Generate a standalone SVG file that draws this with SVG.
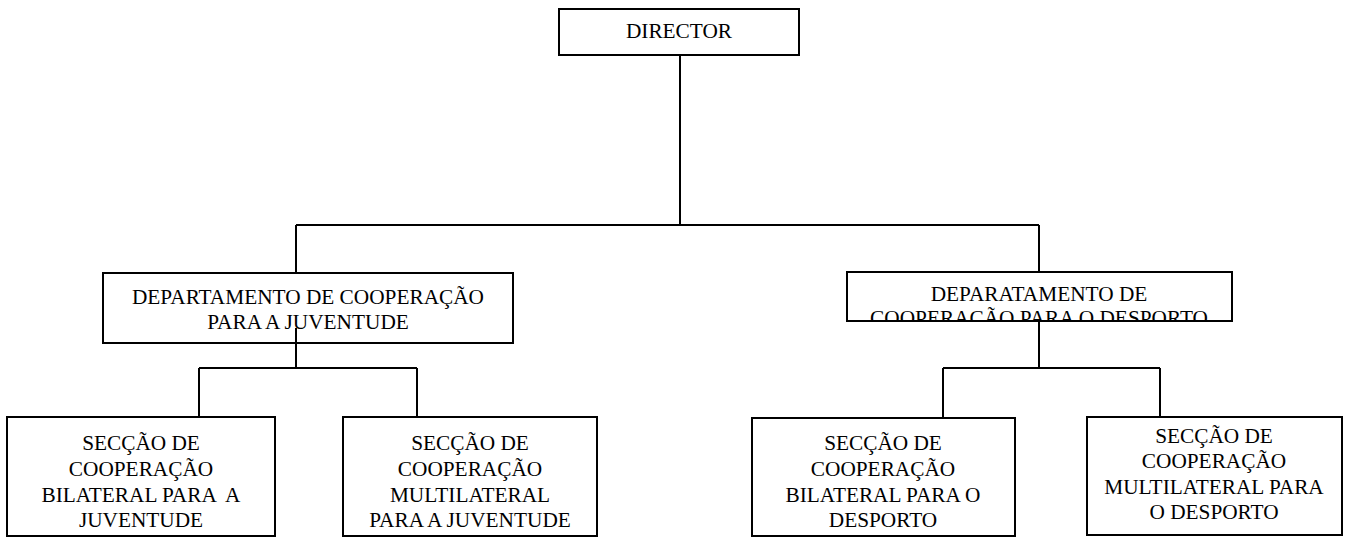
<svg xmlns="http://www.w3.org/2000/svg" width="1352" height="538" viewBox="0 0 1352 538">
<style>
.box{fill:#fff;stroke:#000;stroke-width:2}
.c{fill:none;stroke:#000;stroke-width:2}
text{font-family:"Liberation Serif","Times New Roman",serif;font-size:21.3px;fill:#000;text-anchor:middle;white-space:pre}
</style>
<defs>
<clipPath id="clipR"><rect x="847" y="272" width="385" height="49"/></clipPath>
</defs>
<rect width="1352" height="538" fill="#fff"/>
<g id="connectors">
<path class="c" d="M680 55V225M296 225H1039M296 225V273M1039 225V272"/>
<path class="c" d="M199 368H417M199 368V417M417 368V417"/>
<path class="c" d="M1039 321V368M943 368H1160M943 368V417M1160 368V417"/>
</g>
<g id="director">
<rect class="box" x="559" y="9" width="240" height="46"/>
<text x="679" y="38">DIRECTOR</text>
</g>
<g id="dept-juventude">
<rect class="box" x="103" y="273" width="410" height="70"/>
<text x="308" y="304">DEPARTAMENTO DE COOPERAÇÃO</text>
<text x="308" y="329">PARA A JUVENTUDE</text>
</g>
<g id="dept-desporto">
<rect class="box" x="847" y="272" width="385" height="49"/>
<g clip-path="url(#clipR)">
<text x="1039" y="301">DEPARATAMENTO DE</text>
<text x="1039" y="325">COOPERAÇÃO PARA O DESPORTO</text>
</g>
<path class="c" d="M847 321H1232"/>
</g>
<path class="c" d="M296 328V368"/>
<g id="sec-bil-juv">
<rect class="box" x="7" y="417" width="268" height="119"/>
<text x="141" y="450">SECÇÃO DE</text>
<text x="141" y="476">COOPERAÇÃO</text>
<text x="141" y="502">BILATERAL PARA  A</text>
<text x="141" y="527">JUVENTUDE</text>
</g>
<g id="sec-mul-juv">
<rect class="box" x="343" y="417" width="254" height="119"/>
<text x="470" y="450">SECÇÃO DE</text>
<text x="470" y="476">COOPERAÇÃO</text>
<text x="470" y="502">MULTILATERAL</text>
<text x="470" y="527">PARA A JUVENTUDE</text>
</g>
<g id="sec-bil-des">
<rect class="box" x="752" y="418" width="263" height="118"/>
<text x="883" y="450">SECÇÃO DE</text>
<text x="883" y="476">COOPERAÇÃO</text>
<text x="883" y="502">BILATERAL PARA O</text>
<text x="883" y="527">DESPORTO</text>
</g>
<g id="sec-mul-des">
<rect class="box" x="1087" y="417" width="255" height="118"/>
<text x="1214" y="443">SECÇÃO DE</text>
<text x="1214" y="468">COOPERAÇÃO</text>
<text x="1214" y="494">MULTILATERAL PARA</text>
<text x="1214" y="519">O DESPORTO</text>
</g>
</svg>
